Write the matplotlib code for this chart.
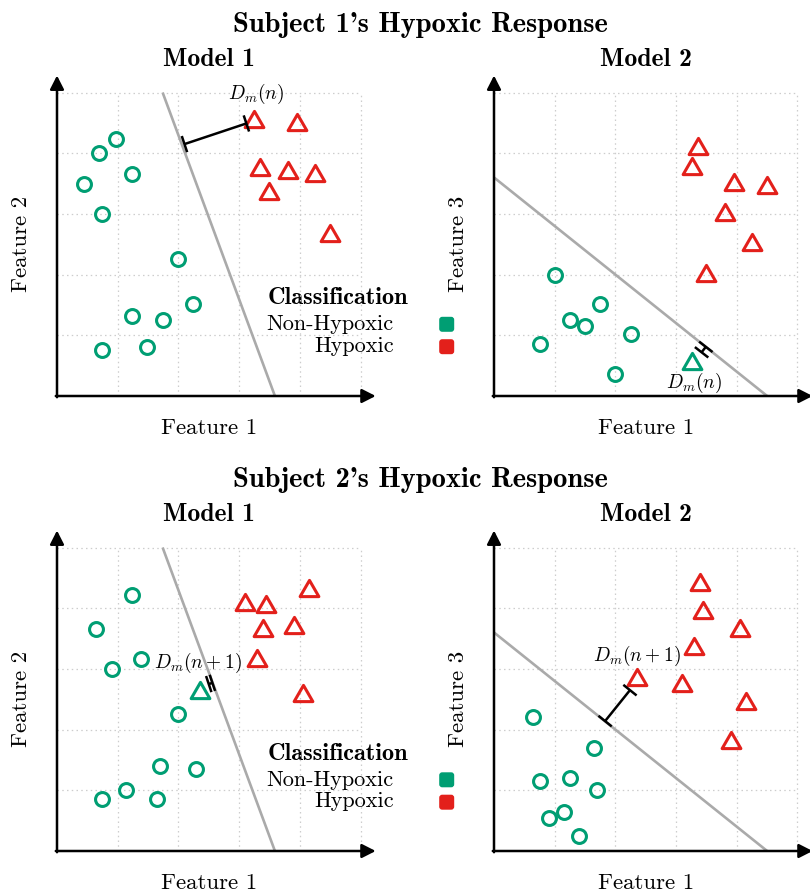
import numpy as np
import matplotlib
matplotlib.use("Agg")
import matplotlib.pyplot as plt
from matplotlib.markers import MarkerStyle
from matplotlib.path import Path
from matplotlib.patches import FancyBboxPatch

plt.rcParams['font.family'] = ['cmr10']
plt.rcParams['mathtext.fontset'] = 'cm'
plt.rcParams['axes.unicode_minus'] = False

GREEN = '#009E73'
RED = '#E3201B'
GRAY = '#AAAAAA'

# ---------------- data ----------------
titles = ["Subject 1's Hypoxic Response", "Subject 2's Hypoxic Response"]
model_titles = ["Model 1", "Model 2"]
xlabels = ["Feature 1", "Feature 1"]
ylabels = ["Feature 2", "Feature 3"]
legend_title = "Classification"
legend_labels = ["Non-Hypoxic", "Hypoxic"]
grid_vals = [1, 2, 3, 4, 5]

# Subject 1, Model 1
s1m1_non_x = [0.98, 0.69, 1.24, 0.44, 0.74, 2.00, 2.24, 1.24, 1.74, 1.49, 0.74]
s1m1_non_y = [4.24, 4.00, 3.65, 3.50, 3.00, 2.25, 1.51, 1.31, 1.26, 0.81, 0.75]
s1m1_hyp_x = [3.25, 3.95, 3.35, 3.80, 4.25, 3.50, 4.50]
s1m1_hyp_y = [4.57, 4.51, 3.78, 3.72, 3.67, 3.37, 2.68]
s1m1_mis_x, s1m1_mis_y = [], []
s1m1_margin = [(2.10, 4.15), (3.12, 4.49)]
s1m1_label = (3.28, 4.89, r'$D_m(n)$')

# Subject 1, Model 2
s1m2_non_x = [1.00, 1.75, 1.26, 1.50, 2.25, 0.75, 2.00]
s1m2_non_y = [2.00, 1.51, 1.26, 1.16, 1.02, 0.86, 0.37]
s1m2_hyp_x = [3.36, 3.26, 3.95, 4.50, 3.80, 4.25, 3.50]
s1m2_hyp_y = [4.12, 3.79, 3.53, 3.48, 3.03, 2.54, 2.03]
s1m2_mis_x, s1m2_mis_y = [3.26], [0.58]
s1m2_margin = [(3.42, 0.72), (3.49, 0.81)]
s1m2_label = (3.29, 0.14, r'$D_m(n)$')

# Subject 2, Model 1
s2m1_non_x = [1.24, 0.64, 1.39, 0.90, 1.99, 1.69, 2.29, 1.14, 0.74, 1.64]
s2m1_non_y = [4.21, 3.65, 3.16, 3.00, 2.25, 1.40, 1.35, 1.00, 0.85, 0.85]
s2m1_hyp_x = [4.15, 3.10, 3.44, 3.40, 3.90, 3.30, 4.05]
s2m1_hyp_y = [4.33, 4.11, 4.07, 3.67, 3.72, 3.18, 2.61]
s2m1_mis_x, s2m1_mis_y = [2.35], [2.66]
s2m1_margin = [(2.50, 2.75), (2.56, 2.77)]
s2m1_label = (2.33, 3.01, r'$D_m(n+1)$')

# Subject 2, Model 2
s2m2_non_x = [0.65, 1.64, 0.75, 1.25, 1.70, 1.15, 0.90, 1.40]
s2m2_non_y = [2.20, 1.70, 1.15, 1.20, 1.00, 0.65, 0.55, 0.25]
s2m2_hyp_x = [3.40, 3.45, 4.05, 3.29, 2.35, 3.10, 4.15, 3.90]
s2m2_hyp_y = [4.43, 3.97, 3.67, 3.38, 2.87, 2.77, 2.47, 1.83]
s2m2_mis_x, s2m2_mis_y = [], []
s2m2_margin = [(1.83, 2.14), (2.24, 2.65)]
s2m2_label = (2.35, 3.135, r'$D_m(n+1)$')

# decision boundaries (two end points)
m1_boundary = [(1.74, 5.0), (3.59, 0.0)]
m2_boundary = [(0.0, 3.6), (4.5, 0.0)]

# ---------------- layout ----------------
W, H = 810, 892
fig = plt.figure(figsize=(W / 100, H / 100), dpi=100)

ov = fig.add_axes([0, 0, 1, 1])
ov.set_xlim(0, W)
ov.set_ylim(H, 0)
ov.axis('off')

U = 60.7
LIM = (-0.25, 5.6)


def add_panel(ox, oy):
    left = ox + LIM[0] * U
    size = (LIM[1] - LIM[0]) * U
    bottom_px = oy - LIM[0] * U
    ax = fig.add_axes([left / W, (H - bottom_px) / H, size / W, size / H])
    ax.set_xlim(*LIM)
    ax.set_ylim(*LIM)
    ax.axis('off')
    return ax


tri = MarkerStyle(Path([(-1, -0.866), (1, -0.866), (0, 0.866), (0, 0)], closed=True),
                  joinstyle='miter')


def margin(ax, p0, p1):
    P = ax.transData.transform(np.array([p0, p1]))
    d = P[1] - P[0]
    d = d / np.hypot(*d)
    n = np.array([-d[1], d[0]])
    inv = ax.transData.inverted()
    seg = inv.transform(P)
    ax.plot(seg[:, 0], seg[:, 1], color='k', lw=1.8, solid_capstyle='butt', zorder=6, clip_on=False)
    for Q in P:
        b = inv.transform(np.array([Q - n * 8.5, Q + n * 8.5]))
        ax.plot(b[:, 0], b[:, 1], color='k', lw=1.8, solid_capstyle='butt', zorder=6, clip_on=False)


def draw_panel(ax, non_x, non_y, hyp_x, hyp_y, mis_x, mis_y, boundary, mseg, label):
    for g in grid_vals:
        ax.plot([g, g], [0, grid_vals[-1]], color='#CDCDCD', lw=0.9, ls=(0, (1.2, 2.6)), zorder=1)
        ax.plot([0, grid_vals[-1]], [g, g], color='#CDCDCD', lw=0.9, ls=(0, (1.2, 2.6)), zorder=1)
    arrow = dict(arrowstyle='-|>,head_length=0.55,head_width=0.28', lw=1.8, color='k',
                 mutation_scale=15, shrinkA=0, shrinkB=0)
    ax.annotate('', xy=(5.25, 0), xytext=(-0.02, 0), arrowprops=arrow, zorder=3)
    ax.annotate('', xy=(0, 5.28), xytext=(0, -0.02), arrowprops=arrow, zorder=3)
    bx = [p[0] for p in boundary]
    by = [p[1] for p in boundary]
    ax.plot(bx, by, color=GRAY, lw=1.9, zorder=2, solid_capstyle='butt')
    ax.plot(non_x, non_y, ls='none', marker='o', ms=10, mew=2.2, mfc='none', mec=GREEN,
            zorder=4, clip_on=False)
    ax.plot(hyp_x, hyp_y, ls='none', marker=tri, ms=13.5, mew=2.2, mfc='none', mec=RED,
            zorder=4, clip_on=False)
    if mis_x:
        ax.plot(mis_x, mis_y, ls='none', marker=tri, ms=13.5, mew=2.2, mfc='none', mec=GREEN,
                zorder=4, clip_on=False)
    margin(ax, mseg[0], mseg[1])
    ax.text(label[0], label[1], label[2], ha='center', va='baseline', fontsize=14, zorder=7)


origins = [(57, 396), (494, 396), (57, 851), (494, 851)]
panels = [
    (s1m1_non_x, s1m1_non_y, s1m1_hyp_x, s1m1_hyp_y, s1m1_mis_x, s1m1_mis_y, m1_boundary, s1m1_margin, s1m1_label),
    (s1m2_non_x, s1m2_non_y, s1m2_hyp_x, s1m2_hyp_y, s1m2_mis_x, s1m2_mis_y, m2_boundary, s1m2_margin, s1m2_label),
    (s2m1_non_x, s2m1_non_y, s2m1_hyp_x, s2m1_hyp_y, s2m1_mis_x, s2m1_mis_y, m1_boundary, s2m1_margin, s2m1_label),
    (s2m2_non_x, s2m2_non_y, s2m2_hyp_x, s2m2_hyp_y, s2m2_mis_x, s2m2_mis_y, m2_boundary, s2m2_margin, s2m2_label),
]

for i, ((ox, oy), pdata) in enumerate(zip(origins, panels)):
    ax = add_panel(ox, oy)
    draw_panel(ax, *pdata)
    col = i % 2
    cx = ox + 2.5 * U
    # model title
    ov.text(cx, oy - 330, model_titles[col], ha='center', va='baseline',
            fontsize=18.5, family='cmb10')
    # x label
    ov.text(cx, oy + 38, xlabels[col], ha='center', va='baseline', fontsize=16.5)
    # y label
    ov.text(ox - 26, oy - 2.5 * U, ylabels[col], ha='right', va='center',
            rotation=90, fontsize=16.5)

for r, dy in enumerate([0, 455.5]):
    ov.text(420, 31.5 + dy, titles[r], ha='center', va='baseline', fontsize=20.5, family='cmb10')
    # legend
    ov.text(267.3, 304.3 + dy, legend_title, ha='left', va='baseline', fontsize=17.5, family='cmb10')
    for j, (lab, colr) in enumerate(zip(legend_labels, [GREEN, RED])):
        ov.text(393.5, 330 + 21.7 * j + dy, lab, ha='right', va='baseline', fontsize=16)
        cy = 324.3 + 22.4 * j + dy
        ov.add_patch(FancyBboxPatch((446.7 - 7.5, cy - 7.5), 15, 15,
                                    boxstyle='round,pad=0,rounding_size=3',
                                    fc=colr, ec='none'))

fig.savefig('out.png', dpi=100)
